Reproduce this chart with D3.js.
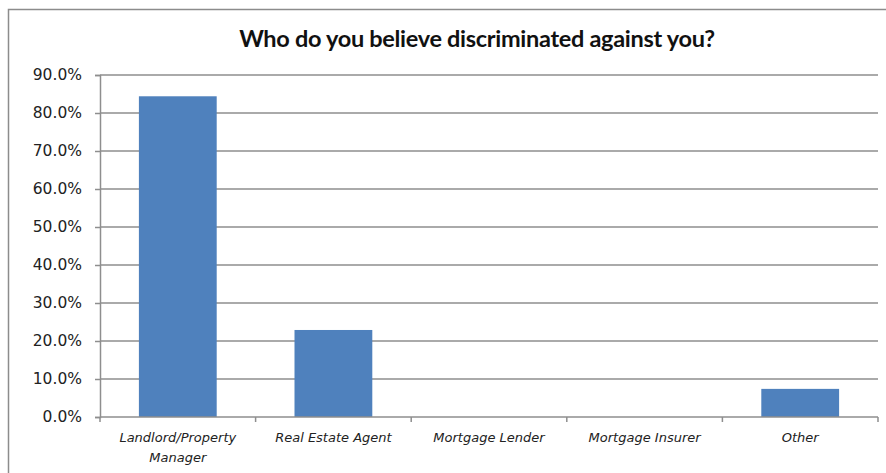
<!DOCTYPE html>
<html>
<head>
<meta charset="utf-8">
<script src="https://cdn.jsdelivr.net/npm/d3@7"></script>
<style>
  html, body { margin: 0; padding: 0; background: #fff; }
  svg { display: block; }
</style>
</head>
<body>
<div id="chart"></div>
<script>
// Werte
const categories = [
    ["Landlord/Property", "Manager"],
    ["Real Estate Agent"],
    ["Mortgage Lender"],
    ["Mortgage Insurer"],
    ["Other"]
];
const values = [0.844, 0.229, 0, 0, 0.074];
const yTicks = [0, 0.1, 0.2, 0.3, 0.4, 0.5, 0.6, 0.7, 0.8, 0.9];
const title = "Who do you believe discriminated against you?";

const W = 886, H = 473;
const margin = { top: 75, right: 8, bottom: 56, left: 100 };
const width = W - margin.left - margin.right;
const height = H - margin.top - margin.bottom;

const svg = d3.select("#chart")
    .append("svg")
    .attr("width", W)
    .attr("height", H);

// Rahmen des Diagramms
svg.append("rect")
    .attr("x", 8.5).attr("y", 9.5)
    .attr("width", W + 20).attr("height", H + 20)
    .attr("fill", "#fff")
    .attr("stroke", "#8c8c8c")
    .attr("stroke-width", 1.5);

// Titel
svg.append("text")
    .attr("x", 477).attr("y", 47)
    .attr("text-anchor", "middle")
    .attr("font-family", "Lato, 'Open Sans', sans-serif")
    .attr("font-weight", "bold")
    .attr("font-size", 23.5)
    .attr("letter-spacing", -0.3)
    .attr("fill", "#111")
    .text(title);

const g = svg.append("g")
    .attr("transform", `translate(${margin.left},${margin.top})`);

// Skalen
const x = d3.scaleBand()
    .domain(d3.range(categories.length))
    .range([0, width])
    .paddingInner(0.5)
    .paddingOuter(0.25);

const y = d3.scaleLinear()
    .domain([0, 0.9])
    .range([height, 0]);

// Gitterlinien
g.append("g")
    .selectAll("line")
    .data(yTicks.slice(1))
    .join("line")
    .attr("x1", 0).attr("x2", width)
    .attr("y1", d => y(d)).attr("y2", d => y(d))
    .attr("stroke", "#8e8e8e")
    .attr("stroke-width", 1.5);

// Balken
g.append("g")
    .selectAll("rect")
    .data(values)
    .join("rect")
    .attr("x", (d, i) => x(i))
    .attr("width", x.bandwidth())
    .attr("y", d => y(d))
    .attr("height", d => height - y(d))
    .attr("fill", "#4f81bd");

// y-Achse
const yAxis = g.append("g")
    .call(d3.axisLeft(y)
        .tickValues(yTicks)
        .tickFormat(d3.format(".1%"))
        .tickSize(5)
        .tickPadding(13));
yAxis.select(".domain").attr("stroke", "#8e8e8e").attr("stroke-width", 1.5);
yAxis.selectAll(".tick line").attr("stroke", "#8e8e8e").attr("stroke-width", 1.5);
yAxis.selectAll(".tick text")
    .attr("font-family", "'DejaVu Sans', Verdana, sans-serif")
    .attr("font-size", 15.5)
    .attr("fill", "#222");

// x-Achse
const xAxis = g.append("g")
    .attr("transform", `translate(0,${height})`);
xAxis.append("line")
    .attr("x1", 0).attr("x2", width)
    .attr("stroke", "#8e8e8e").attr("stroke-width", 1.5);
xAxis.selectAll(".sep")
    .data(d3.range(categories.length + 1))
    .join("line")
    .attr("class", "sep")
    .attr("x1", i => i * width / categories.length)
    .attr("x2", i => i * width / categories.length)
    .attr("y1", 0).attr("y2", 5)
    .attr("stroke", "#8e8e8e").attr("stroke-width", 1.5);

const labels = xAxis.selectAll(".lab")
    .data(categories)
    .join("text")
    .attr("class", "lab")
    .attr("x", (d, i) => x(i) + x.bandwidth() / 2)
    .attr("y", 25)
    .attr("text-anchor", "middle")
    .attr("font-family", "'DejaVu Sans', Verdana, sans-serif")
    .attr("font-style", "italic")
    .attr("font-size", 13)
    .attr("fill", "#222");
labels.each(function(d, i) {
    const t = d3.select(this);
    d.forEach((line, k) => {
        t.append("tspan")
            .attr("x", x(i) + x.bandwidth() / 2)
            .attr("dy", k === 0 ? 0 : 20)
            .text(line);
    });
});
</script>
</body>
</html>
